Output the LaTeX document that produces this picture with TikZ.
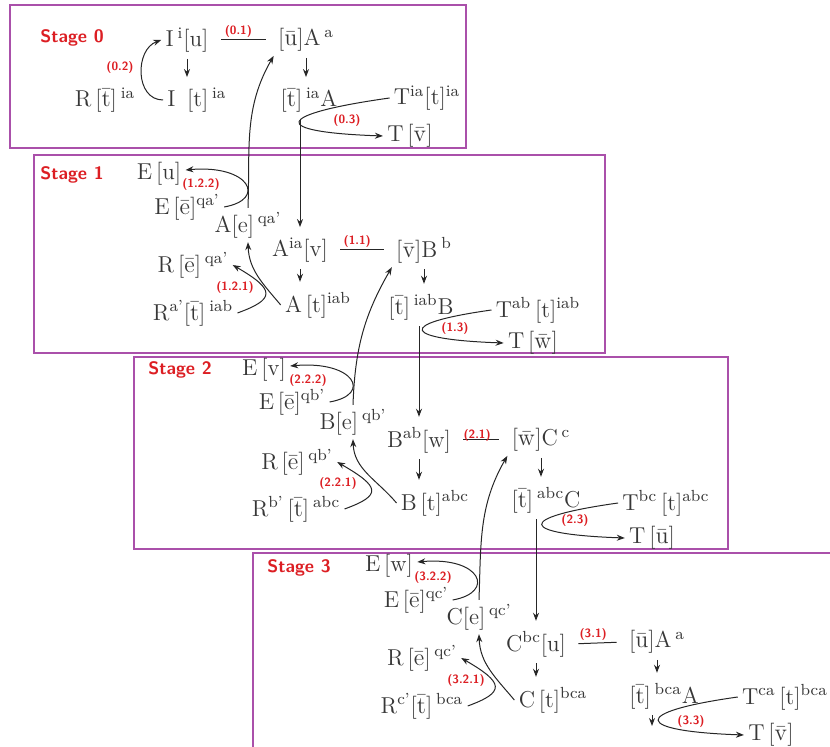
\documentclass[tikz,border=0pt]{standalone}
\usetikzlibrary{arrows.meta}

\definecolor{stagered}{RGB}{220,30,35}
\definecolor{boxpurple}{RGB}{170,80,170}
\definecolor{termgray}{RGB}{55,55,55}

\newcommand{\ov}[1]{$\bar{\mathrm{#1}}$}
\newcommand{\sps}[1]{\textsuperscript{#1}}

\begin{document}
\begin{tikzpicture}[x=0.5pt, y=-0.5pt,
    term/.style={text=termgray, font=\fontsize{11.5}{13}\selectfont, inner sep=2pt},
    stagelabel/.style={text=stagered, font=\fontsize{9}{11}\sffamily\bfseries},
    rulelabel/.style={text=stagered, font=\fontsize{6}{7}\sffamily\bfseries, inner sep=1pt},
    stagebox/.style={draw=boxpurple, line width=0.7pt},
    link/.style={line width=0.5pt, black!85},
    arrowdown/.style={link, -{Stealth[length=4pt,width=3pt]}, shorten <=1pt, shorten >=3pt},
    curvearrow/.style={link, -{Stealth[length=4pt,width=3pt]}},
    pairline/.style={link, shorten <=4pt, shorten >=4pt}]

    \useasboundingbox (0,0) rectangle (830,747);

    % --- Stage boxes ---
    \draw[stagebox] (10,5) rectangle (466,148);
    \draw[stagebox] (34,155) rectangle (605,353);
    \draw[stagebox] (134,357) rectangle (728,549);
    \draw[stagebox] (830,553) -- (253,553) -- (253,747);

    % --- Stage 0 ---
    \node[stagelabel] (stage0) at (72,38) {Stage 0};
    \node[term] (i0u) at (187,40) {I\,\sps{i}[u]};
    \node[term] (a0u) at (306,40) {[\ov{u}]A\,\sps{a}};
    \node[term] (r0t) at (105,100) {R\,[\ov{t}]\,\sps{ia}};
    \node[term] (i0t) at (197,100) {I\enspace[t]\,\sps{ia}};
    \node[term] (a0t) at (309,100) {[\ov{t}]\,\sps{ia}A};
    \node[term] (t0) at (427,98) {T\sps{ia}[t]\sps{ia}};
    \node[term] (t0v) at (410,136) {T\,[\ov{v}]};
    \node[rulelabel] (lab02) at (120,68) {(0.2)};
    \node[rulelabel] (lab03) at (347,121) {(0.3)};

    \draw[pairline] (i0u.east) -- node[rulelabel, pos=0.42, above] (lab01) {(0.1)} (a0u.west);
    \draw[arrowdown] (i0u.south) -- (i0u.south |- i0t.north);
    \draw[arrowdown] (a0u.south) -- (a0u.south |- a0t.north);
    \draw[curvearrow] (i0t.west) to[out=180, in=200, looseness=1.2] (i0u.west);
    \draw[curvearrow] (t0.west) .. controls +(188:58pt) and +(178:58pt) .. (t0v.west);

    % --- Stage 1 ---
    \node[stagelabel] (stage1) at (72,175) {Stage 1};
    \node[term] (e1u) at (159,174) {E\,[u]};
    \node[term] (e1e) at (187,207) {E\,[\ov{e}]\sps{qa'}};
    \node[term] (ae1) at (248,225) {A[e]\,\sps{qa'}};
    \node[term] (a1v) at (300,250) {A\sps{ia}[v]};
    \node[term] (b1v) at (424,250) {[\ov{v}]B\,\sps{b}};
    \node[term] (r1e) at (193,265) {R\,[\ov{e}]\,\sps{qa'}};
    \node[term] (r1t) at (193,313) {R\sps{a'}[\ov{t}]\,\sps{iab}};
    \node[term] (a1t) at (318,305) {A\,[t]\sps{iab}};
    \node[term] (b1t) at (421,307) {[\ov{t}]\,\sps{iab}B};
    \node[term] (t1) at (538,310) {T\sps{ab}\,[t]\sps{iab}};
    \node[term] (t1w) at (533,343) {T\,[\ov{w}]};
    \node[rulelabel] (lab122) at (201,185) {(1.2.2)};
    \node[rulelabel] (lab121) at (235,288) {(1.2.1)};
    \node[rulelabel] (lab13) at (455,329) {(1.3)};

    \draw[pairline] (a1v.east) -- node[rulelabel, pos=0.42, above] (lab11) {(1.1)} (b1v.west);
    \draw[arrowdown] (a1v.south) -- (a1v.south |- a1t.north);
    \draw[arrowdown] (b1v.south) -- (b1v.south |- b1t.north);
    \draw[curvearrow] (e1e.east) .. controls +(10:22pt) and +(5:32pt) .. ([yshift=2pt]e1u.east);
    \draw[curvearrow] (r1t.east) .. controls +(20:20pt) and +(-30:25pt) .. (r1e.east);
    \draw[curvearrow] (a1t.west) to[out=130, in=-88] (ae1.south);
    \draw[curvearrow] (t1.west) .. controls +(188:50pt) and +(178:50pt) .. (t1w.west);

    % --- Stage 2 ---
    \node[stagelabel] (stage2) at (180,370) {Stage 2};
    \node[term] (e2v) at (264,370) {E\,[v]};
    \node[term] (e2e) at (292,402) {E\,[\ov{e}]\sps{qb'}};
    \node[term] (be2) at (353,422) {B[e]\,\sps{qb'}};
    \node[term] (b2w) at (419,440) {B\sps{ab}[w]};
    \node[term] (c2w) at (541,440) {[\ov{w}]C\,\sps{c}};
    \node[term] (r2e) at (297,462) {R\,[\ov{e}]\,\sps{qb'}};
    \node[term] (r2t) at (296,509) {R\sps{b'}\,[\ov{t}]\,\sps{abc}};
    \node[term] (b2t) at (435,503) {B\,[t]\sps{abc}};
    \node[term] (c2t) at (546,500) {[\ov{t}]\,\sps{abc}C};
    \node[term] (t2) at (666,503) {T\sps{bc}\,[t]\sps{abc}};
    \node[term] (t2u) at (652,538) {T\,[\ov{u}]};
    \node[rulelabel] (lab222) at (308,381) {(2.2.2)};
    \node[rulelabel] (lab221) at (338,484) {(2.2.1)};
    \node[rulelabel] (lab23) at (575,521) {(2.3)};

    \draw[pairline] (b2w.east) -- node[rulelabel, pos=0.42, above=-2pt] (lab21) {(2.1)} (c2w.west);
    \draw[arrowdown] (b2w.south) -- (b2w.south |- b2t.north);
    \draw[arrowdown] (c2w.south) -- (c2w.south |- c2t.north);
    \draw[curvearrow] (e2e.east) .. controls +(10:22pt) and +(5:32pt) .. ([yshift=2pt]e2v.east);
    \draw[curvearrow] (r2t.east) .. controls +(20:20pt) and +(-30:25pt) .. (r2e.east);
    \draw[curvearrow] (b2t.west) to[out=130, in=-88] (be2.south);
    \draw[curvearrow] (t2.west) .. controls +(188:53pt) and +(178:53pt) .. (t2u.west);

    % --- Stage 3 ---
    \node[stagelabel] (stage3) at (299,568) {Stage 3};
    \node[term] (e3w) at (389,566) {E\,[w]};
    \node[term] (e3e) at (416,600) {E\,[\ov{e}]\sps{qc'}};
    \node[term] (ce3) at (479,617) {C[e]\,\sps{qc'}};
    \node[term] (c3u) at (536,644) {C\sps{bc}[u]};
    \node[term] (a3u) at (657,642) {[\ov{u}]A\,\sps{a}};
    \node[term] (r3e) at (422,658) {R\,[\ov{e}]\,\sps{qc'}};
    \node[term] (r3t) at (422,706) {R\sps{c'}[\ov{t}]\,\sps{bca}};
    \node[term] (c3t) at (553,700) {C\,[t]\sps{bca}};
    \node[term] (a3t) at (664,696) {[\ov{t}]\,\sps{bca}A};
    \node[term] (t3) at (785,697) {T\sps{ca}\,[t]\sps{bca}};
    \node[term] (t3v) at (771,735) {T\,[\ov{v}]};
    \node[rulelabel] (lab322) at (433,578) {(3.2.2)};
    \node[rulelabel] (lab321) at (466,681) {(3.2.1)};
    \node[rulelabel] (lab33) at (691,722) {(3.3)};
    \coordinate (end3) at (652,732);

    \draw[pairline] (c3u.east) -- node[rulelabel, pos=0.42, above] (lab31) {(3.1)} (a3u.west);
    \draw[arrowdown] (c3u.south) -- (c3u.south |- c3t.north);
    \draw[arrowdown] (a3u.south) -- (a3u.south |- a3t.north);
    \draw[arrowdown] (end3 |- a3t.south) -- (end3);
    \draw[curvearrow] (e3e.east) .. controls +(10:22pt) and +(5:32pt) .. ([yshift=2pt]e3w.east);
    \draw[curvearrow] (r3t.east) .. controls +(20:20pt) and +(-30:25pt) .. (r3e.east);
    \draw[curvearrow] (c3t.west) to[out=130, in=-88] (ce3.south);
    \draw[curvearrow] (t3.west) .. controls +(188:55pt) and +(178:55pt) .. (t3v.west);

    % --- Links between stages ---
    \draw[arrowdown] (a1v.north |- a0t.south) -- (a1v.north);
    \draw[curvearrow] (ae1.north) to[out=88, in=240] (a0u.south west);
    \draw[arrowdown] (b2w.north |- b1t.south) -- (b2w.north);
    \draw[curvearrow] (be2.north) to[out=88, in=240] (b1v.south west);
    \draw[arrowdown] (c3u.north |- c2t.south) -- (c3u.north);
    \draw[curvearrow] (ce3.north) to[out=88, in=240] (c2w.south west);

\end{tikzpicture}
\end{document}
